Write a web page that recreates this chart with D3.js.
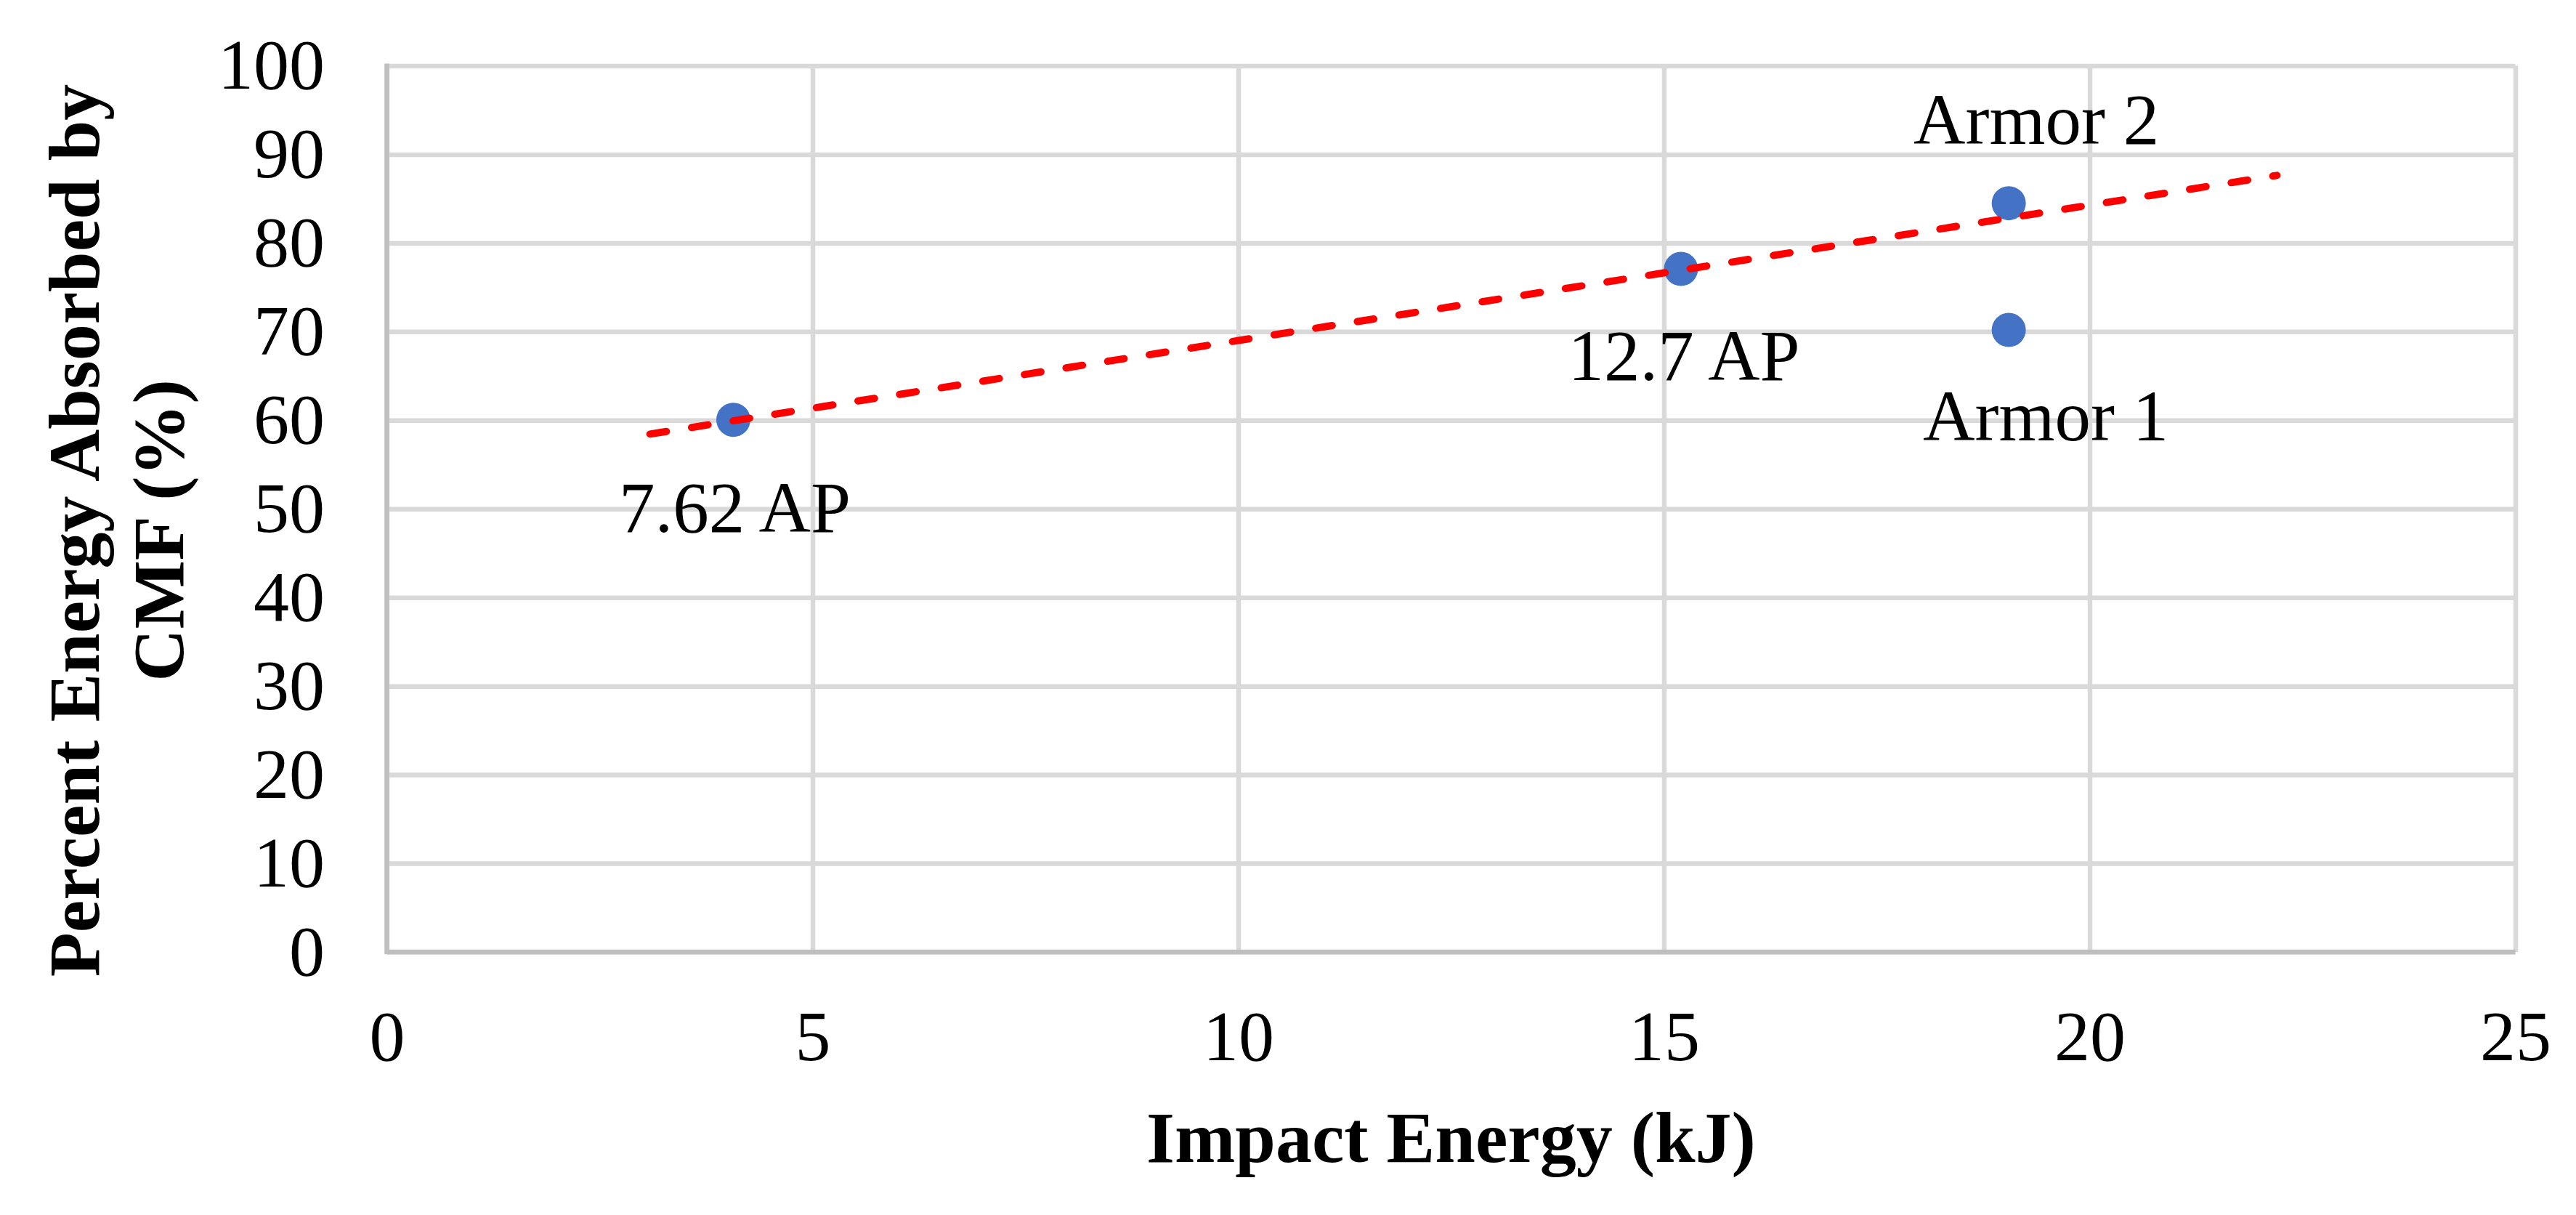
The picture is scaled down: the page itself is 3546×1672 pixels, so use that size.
<!DOCTYPE html>
<html lang="en">
<head>
    <meta charset="UTF-8">
    <title>Percent Energy Absorbed by CMF</title>
    <style>
        html, body { margin: 0; padding: 0; background: #fff; }
        svg { display: block; }
    </style>
</head>
<body>
    <div id="wrapper"></div>
    <script src="https://d3js.org/d3.v7.min.js"></script>
    <script>
        // data
        const labels = ['7.62 AP', '12.7 AP', 'Armor 2', 'Armor 1'];
        const impactEnergy = [4.07, 15.2, 19.05, 19.05];      // kJ
        const percentAbsorbed = [60.05, 77.08, 84.49, 70.19];  // %

        // dashed trend line, start and end as drawn
        const trendX = [3.09, 22.2];
        const trendY = [58.44, 87.63];

        const xTicks = [0, 5, 10, 15, 20, 25];
        const yTicks = [0, 10, 20, 30, 40, 50, 60, 70, 80, 90, 100];

        const xTitle = 'Impact Energy (kJ)';
        const yTitle = ['Percent Energy Absorbed by', 'CMF (%)'];

        // layout
        const width = 3546;
        const height = 1672;
        const plot = { left: 532.5, right: 3462.5, top: 90.5, bottom: 1310 };
        const serif = '"Liberation Serif", "Times New Roman", Times, serif';

        // label offsets from their point (px)
        const labelOffset = {
            '7.62 AP': [2, 154],
            '12.7 AP': [4, 153],
            'Armor 2': [38, -82],
            'Armor 1': [51, 152]
        };

        const x = d3.scaleLinear().domain([0, 25]).range([plot.left, plot.right]);
        const y = d3.scaleLinear().domain([0, 100]).range([plot.bottom, plot.top]);

        const svg = d3.select('#wrapper').append('svg')
            .attr('width', width)
            .attr('height', height);

        svg.append('rect')
            .attr('width', width)
            .attr('height', height)
            .attr('fill', '#fff');

        // y axis with horizontal gridlines
        const yAxis = svg.append('g')
            .attr('transform', `translate(${plot.left},0)`)
            .call(d3.axisLeft(y)
                .tickValues(yTicks)
                .tickFormat(d3.format('d'))
                .tickSizeInner(-(plot.right - plot.left))
                .tickSizeOuter(0)
                .tickPadding(85.5));

        // x axis with vertical gridlines
        const xAxis = svg.append('g')
            .attr('transform', `translate(0,${plot.bottom})`)
            .call(d3.axisBottom(x)
                .tickValues(xTicks)
                .tickFormat(d3.format('d'))
                .tickSizeInner(-(plot.bottom - plot.top))
                .tickSizeOuter(0)
                .tickPadding(79.4));

        [yAxis, xAxis].forEach(function (g) {
            g.select('.domain').remove();
            g.selectAll('.tick line')
                .attr('stroke', '#d9d9d9')
                .attr('stroke-width', 6.5);
            g.selectAll('.tick text')
                .attr('fill', '#000')
                .attr('font-family', serif)
                .attr('font-size', 98);
        });

        // axis lines at zero
        svg.append('line')
            .attr('x1', x(0)).attr('x2', x(0))
            .attr('y1', y(100) - 3).attr('y2', y(0) + 3)
            .attr('stroke', '#bfbfbf')
            .attr('stroke-width', 6.5);
        svg.append('line')
            .attr('x1', x(0)).attr('x2', x(25))
            .attr('y1', y(0)).attr('y2', y(0))
            .attr('stroke', '#bfbfbf')
            .attr('stroke-width', 6.5);

        // points
        const points = labels.map(function (d, i) {
            return { label: d, x: impactEnergy[i], y: percentAbsorbed[i] };
        });

        svg.append('g')
            .selectAll('circle')
            .data(points)
            .enter()
            .append('circle')
            .attr('cx', d => x(d.x))
            .attr('cy', d => y(d.y))
            .attr('r', 23.5)
            .attr('fill', '#4472c4');

        // trend line
        const trend = trendX.map((d, i) => [d, trendY[i]]);
        svg.append('path')
            .datum(trend)
            .attr('d', d3.line().x(d => x(d[0])).y(d => y(d[1])))
            .attr('fill', 'none')
            .attr('stroke', '#ff0000')
            .attr('stroke-width', 10)
            .attr('stroke-linecap', 'round')
            .attr('stroke-dasharray', '23 35');

        // data labels
        svg.append('g')
            .selectAll('text')
            .data(points)
            .enter()
            .append('text')
            .attr('x', d => x(d.x) + labelOffset[d.label][0])
            .attr('y', d => y(d.y) + labelOffset[d.label][1])
            .attr('text-anchor', 'middle')
            .attr('font-family', serif)
            .attr('font-size', 99)
            .attr('fill', '#000')
            .text(d => d.label);

        // axis titles
        svg.append('text')
            .attr('x', (plot.left + plot.right) / 2)
            .attr('y', 1599)
            .attr('text-anchor', 'middle')
            .attr('font-family', serif)
            .attr('font-weight', 'bold')
            .attr('font-size', 100)
            .attr('fill', '#000')
            .text(xTitle);

        svg.append('g')
            .selectAll('text')
            .data(yTitle)
            .enter()
            .append('text')
            .attr('transform', (d, i) => `translate(${136 + i * 116},730) rotate(-90)`)
            .attr('text-anchor', 'middle')
            .attr('font-family', serif)
            .attr('font-weight', 'bold')
            .attr('font-size', 100)
            .attr('fill', '#000')
            .text(d => d);
    </script>
</body>
</html>
